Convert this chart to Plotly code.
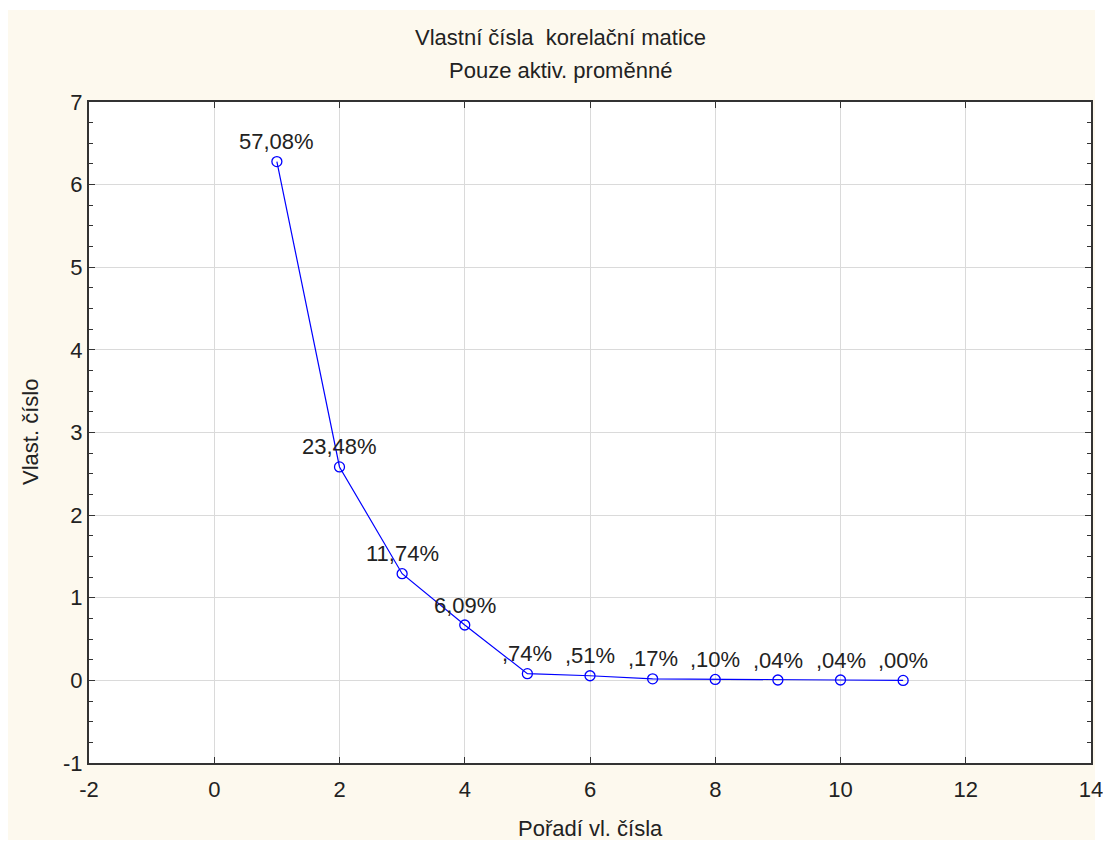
import plotly.graph_objects as go

order = [1, 2, 3, 4, 5, 6, 7, 8, 9, 10, 11]
eigenvalues = [6.279, 2.583, 1.291, 0.670, 0.0814, 0.0561, 0.0187, 0.011, 0.0044, 0.0044, 0.0]
pct_labels = ["57,08%", "23,48%", "11,74%", "6,09%", ",74%", ",51%", ",17%", ",10%", ",04%", ",04%", ",00%"]

x_ticks = [-2, 0, 2, 4, 6, 8, 10, 12, 14]
x_ticktext = ["-2", "0", "2", "4", "6", "8", "10", "12", "14"]
y_ticks = [-1, 0, 1, 2, 3, 4, 5, 6, 7]
y_ticktext = ["-1", "0", "1", "2", "3", "4", "5", "6", "7"]

title_lines = ["Vlastní čísla  korelační matice", "Pouze aktiv. proměnné"]
x_title = "Pořadí vl. čísla"
y_title = "Vlast. číslo"

FONT = "Liberation Sans, Arial, sans-serif"
FS = 22
TXT = "#222222"
BLUE = "#0000FF"
BEIGE = "#FDF9EE"

W, H = 1103, 844
L, R, T, B = 89, 12, 102, 81
PW, PH = W - L - R, H - T - B


def px_x(px):
    return (px - L) / PW


def px_y(py):
    return (H - B - py) / PH


fig = go.Figure()
fig.add_trace(go.Scatter(
    x=order, y=eigenvalues, mode="lines+markers",
    line=dict(color=BLUE, width=1.2),
    marker=dict(symbol="circle-open", size=10, color=BLUE, line=dict(width=1.3, color=BLUE)),
    showlegend=False, hoverinfo="x+y",
))

for xv, yv, lab in zip(order, eigenvalues, pct_labels):
    fig.add_annotation(x=xv, y=yv, text=lab, showarrow=False, yshift=20,
                       font=dict(family=FONT, size=FS, color=TXT))

# outer beige panel and white plot area
fig.add_shape(type="rect", xref="paper", yref="paper",
              x0=px_x(8), x1=px_x(1095), y0=px_y(840), y1=px_y(10),
              fillcolor=BEIGE, line=dict(width=0), layer="below")
fig.add_shape(type="rect", xref="paper", yref="paper",
              x0=0, x1=1, y0=0, y1=1,
              fillcolor="white", line=dict(width=0), layer="below")

# titles
for txt, ypx in zip(title_lines, [38, 71]):
    fig.add_annotation(xref="paper", yref="paper", x=px_x(560), y=px_y(ypx),
                       xanchor="center", yanchor="middle", text=txt, showarrow=False,
                       font=dict(family=FONT, size=FS, color=TXT))
fig.add_annotation(xref="paper", yref="paper", x=0.5, y=px_y(828),
                   xanchor="center", yanchor="middle", text=x_title, showarrow=False,
                   font=dict(family=FONT, size=FS, color=TXT))
fig.add_annotation(xref="paper", yref="paper", x=px_x(30), y=px_y(432),
                   xanchor="center", yanchor="middle", text=y_title, showarrow=False,
                   textangle=-90, font=dict(family=FONT, size=FS, color=TXT))

fig.update_layout(
    width=W, height=H,
    margin=dict(l=L, r=R, t=T, b=B, autoexpand=False),
    paper_bgcolor="white", plot_bgcolor="rgba(0,0,0,0)",
    font=dict(family=FONT, size=FS, color=TXT),
)

fig.update_xaxes(
    range=[-2, 14], tickmode="array", tickvals=x_ticks, ticktext=x_ticktext,
    automargin=False, ticklabeloverflow="allow", ticklabelstandoff=6,
    showgrid=True, gridcolor="#DADADA", gridwidth=1,
    zeroline=False, showline=True, linecolor="#333333", linewidth=2, mirror="ticks",
    ticks="inside", ticklen=6, tickcolor="#333333",
    tickfont=dict(family=FONT, size=FS, color=TXT),
)
fig.update_yaxes(
    range=[-1, 7], tickmode="array", tickvals=y_ticks, ticktext=y_ticktext,
    automargin=False, ticklabeloverflow="allow",
    showgrid=True, gridcolor="#DADADA", gridwidth=1,
    zeroline=False, showline=True, linecolor="#333333", linewidth=2, mirror="ticks",
    ticks="inside", ticklen=6, tickcolor="#333333",
    minor=dict(dtick=0.25, tick0=0, ticks="inside", ticklen=4, tickcolor="#333333", showgrid=False),
    tickfont=dict(family=FONT, size=FS, color=TXT),
)

fig.write_html("out.html")
